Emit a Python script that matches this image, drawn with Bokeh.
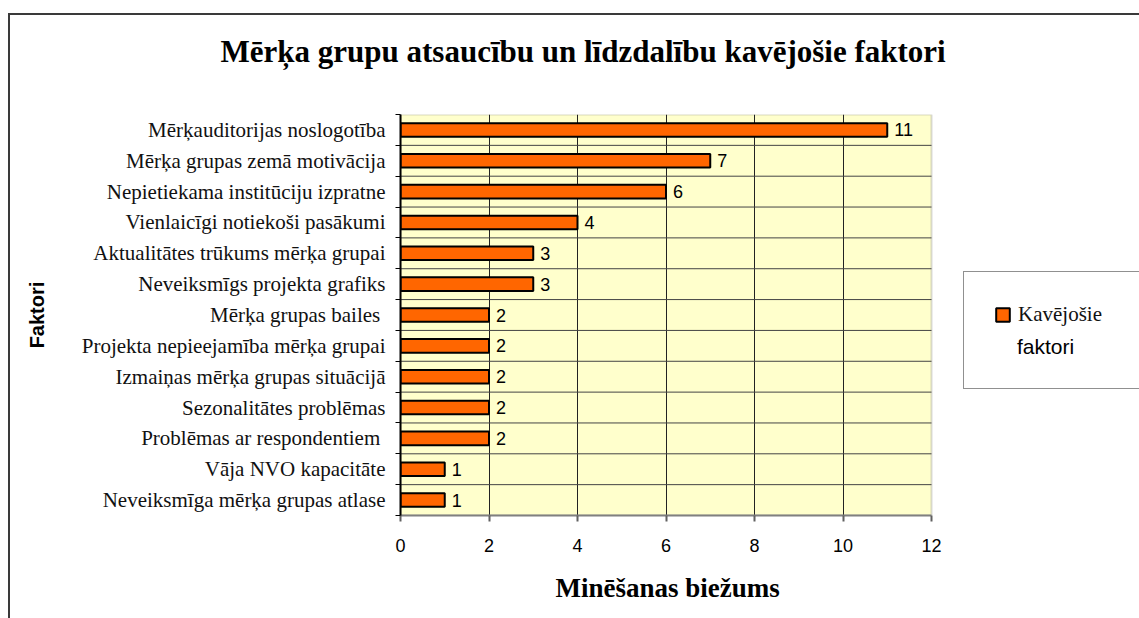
from bokeh.plotting import figure
from bokeh.models import (FixedTicker, Range1d, ColumnDataSource, Legend, LegendItem,
                          BoxAnnotation, LinearAxis, Title)
from bokeh.core.properties import value
from bokeh.embed import file_html
from bokeh.resources import INLINE

# ---- data ----
categories = [
    "Mērķauditorijas noslogotība",
    "Mērķa grupas zemā motivācija",
    "Nepietiekama institūciju izpratne",
    "Vienlaicīgi notiekoši pasākumi",
    "Aktualitātes trūkums mērķa grupai",
    "Neveiksmīgs projekta grafiks",
    "Mērķa grupas bailes ",
    "Projekta nepieejamība mērķa grupai",
    "Izmaiņas mērķa grupas situācijā",
    "Sezonalitātes problēmas",
    "Problēmas ar respondentiem ",
    "Vāja NVO kapacitāte",
    "Neveiksmīga mērķa grupas atlase",
]
counts = [11, 7, 6, 4, 3, 3, 2, 2, 2, 2, 2, 1, 1]
x_ticks = [0, 2, 4, 6, 8, 10, 12]
title_text = "Mērķa grupu atsaucību un līdzdalību kavējošie faktori"
x_title = "Minēšanas biežums"
y_title = "Faktori"
legend_line1 = "Kavējošie"
legend_line2 = "faktori"

SERIF = "'Liberation Serif', 'DejaVu Serif', serif"
NARROW = "'Liberation Sans Narrow', 'Liberation Sans', sans-serif"
SANS = "'Liberation Sans', Arial, sans-serif"

W, H = 1139, 618
FRAME_L, FRAME_T, FRAME_B = 400, 114, 516
AXIS_PX = 531  # pixel length of the 0..12 value axis

n = len(categories)
ypos = [n - i - 0.5 for i in range(n)]
bounds = list(range(0, n + 1))
xmax = x_ticks[-1]
src = ColumnDataSource(dict(cat=categories, count=counts, y=ypos,
                            lbl=[str(c) for c in counts]))

x_end = xmax * (W - FRAME_L) / AXIS_PX
p = figure(width=W, height=H, x_range=Range1d(0, x_end), y_range=Range1d(0, n),
           output_backend="svg", toolbar_location=None,
           min_border_left=FRAME_L, min_border_right=0,
           min_border_top=FRAME_T, min_border_bottom=H - FRAME_B)
p.background_fill_color = "white"
p.border_fill_alpha = 0
p.styles = {
    "background": "linear-gradient(#3a3a3a,#3a3a3a) 8px 13px / 2px 100% no-repeat, "
                  "linear-gradient(#3a3a3a,#3a3a3a) 8px 13px / 100% 2px no-repeat, #ffffff"
}
p.outline_line_color = None
p.title.text = ""

# plot area (value range 0..12)
p.add_layout(BoxAnnotation(left=0, right=xmax, bottom=0, top=n,
                           fill_color="#FFFFCC", fill_alpha=1,
                           line_color="#808080", line_width=2, level="image"))

# horizontal category separators
p.segment(x0=[0] * (n - 1), x1=[xmax] * (n - 1), y0=bounds[1:-1], y1=bounds[1:-1],
          line_color="#444444", line_width=1)

bars = p.hbar(y="y", right="count", left=0, height=0.44, source=src,
              fill_color="#FF6600", line_color="black", line_width=2)
p.text(x="count", y="y", text="lbl", source=src, x_offset=7,
       text_baseline="middle", text_align="left",
       text_font=value(NARROW), text_font_size="18px", text_color="black")
dummy = p.scatter(x=[], y=[], fill_alpha=0, line_alpha=0)

# x axis
p.xaxis.ticker = FixedTicker(ticks=x_ticks)
p.xaxis.bounds = (0, xmax)
p.xaxis.major_tick_out = 6
p.xaxis.major_tick_in = 0
p.xaxis.minor_tick_line_color = None
p.xaxis.axis_line_color = "#808080"
p.xaxis.axis_line_width = 2
p.xaxis.major_tick_line_color = "#606060"
p.xaxis.major_tick_line_width = 2
p.xaxis.major_label_text_font = NARROW
p.xaxis.major_label_text_font_size = "18px"
p.xaxis.major_label_text_color = "black"
p.xaxis.major_label_standoff = 17

# x axis title (left-aligned below the 0..12 range)
p.add_layout(Title(text=x_title, align="left", offset=155,
                   text_font=SERIF, text_font_style="bold", text_font_size="27px",
                   text_color="black", standoff=32), "below")

# y axis
yt = FixedTicker(ticks=ypos, minor_ticks=bounds)
p.yaxis.ticker = yt
p.yaxis.major_tick_line_color = None
p.yaxis.major_tick_out = 5
p.yaxis.major_tick_in = 0
p.yaxis.minor_tick_out = 5
p.yaxis.minor_tick_in = 0
p.yaxis.minor_tick_line_color = "black"
p.yaxis.axis_line_color = "black"
p.yaxis.axis_line_width = 2
p.yaxis.major_label_overrides = {y: c for y, c in zip(ypos, categories)}
p.yaxis.major_label_text_font = SERIF
p.yaxis.major_label_text_font_size = "21px"
p.yaxis.major_label_text_color = "#111111"
p.yaxis.major_label_standoff = 10
p.yaxis.axis_label = y_title
p.yaxis.axis_label_text_font = SANS
p.yaxis.axis_label_text_font_style = "bold"
p.yaxis.axis_label_text_font_size = "20px"
p.yaxis.axis_label_text_color = "black"
p.yaxis.axis_label_standoff = 31

# grids
p.xgrid.ticker = FixedTicker(ticks=x_ticks[1:-1])
p.xgrid.grid_line_color = "#222222"
p.xgrid.grid_line_width = 1
p.ygrid.grid_line_color = None

# invisible spacer between title and plot (nearest to the frame)
spacer = LinearAxis(ticker=FixedTicker(ticks=[x_ticks[0]]), axis_line_color=None,
                    major_tick_out=26, major_tick_in=0, major_tick_line_color=None,
                    minor_tick_line_color=None, major_label_standoff=0,
                    major_label_overrides={x_ticks[0]: ""},
                    major_label_text_font_size="1px")
p.add_layout(spacer, "above")

# chart title (farther from the frame than the spacer)
p.add_layout(Title(text=title_text, align="left", offset=-180,
                   text_font=SERIF, text_font_style="bold", text_font_size="31px",
                   text_color="black", standoff=40), "above")

# legend (box + first line)
legA = Legend(items=[LegendItem(label=legend_line1, renderers=[bars]),
                     LegendItem(label="", renderers=[dummy])],
              location=(563, 126), orientation="vertical",
              padding=30, margin=0, spacing=9,
              glyph_width=17, glyph_height=17, label_height=22, label_width=120,
              label_standoff=7,
              label_text_font=SERIF, label_text_font_size="21px",
              label_text_color="#111111",
              border_line_color="#222222", border_line_width=1.5,
              background_fill_color="white", background_fill_alpha=1)
p.add_layout(legA, "center")
# legend second line (different font)
legB = Legend(items=[LegendItem(label=legend_line2, renderers=[dummy])],
              location=(593, 156), padding=0, margin=0,
              glyph_width=17, glyph_height=17, label_height=22,
              label_standoff=7,
              label_text_font=NARROW, label_text_font_size="21px",
              label_text_color="black",
              border_line_color=None, background_fill_alpha=0)
p.add_layout(legB, "center")

open("out.html", "w").write(file_html(p, INLINE))
